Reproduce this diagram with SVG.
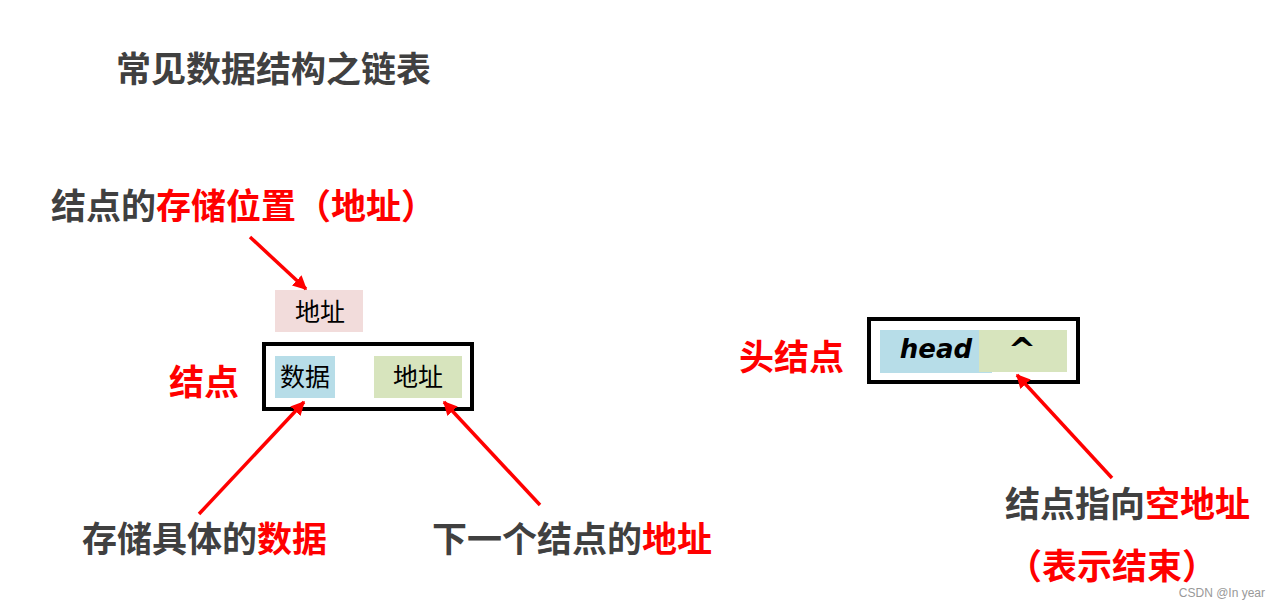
<svg xmlns="http://www.w3.org/2000/svg" width="1281" height="609" viewBox="0 0 1281 609">
<style>
.h{font-family:"Noto Sans CJK SC","Liberation Sans",sans-serif;font-weight:700;font-size:35px;fill:#404040}
.r{fill:#ff0000}
.s{font-family:"Liberation Serif","Noto Sans CJK SC",serif;font-size:25px;fill:#000;text-anchor:middle}
.frame{fill:none;stroke:#000;stroke-width:4}
.arr{stroke:#ff0000;stroke-width:3.5;fill:none;marker-end:url(#ah)}
</style>
<defs>
<marker id="ah" viewBox="0 0 10 10" refX="9" refY="5" markerWidth="4" markerHeight="4" orient="auto" markerUnits="strokeWidth">
<path d="M0,0 L10,5 L0,10 z" fill="#ff0000"/>
</marker>
</defs>
<rect width="1281" height="609" fill="#fff"/>
<g id="title"><text class="h" x="116" y="82">常见数据结构之链表</text></g>
<g id="label-storage"><text class="h" x="51" y="219">结点的<tspan class="r">存储位置（地址）</tspan></text></g>
<g id="addr-box">
<rect x="275" y="290" width="88" height="42" fill="#f2dcdb"/>
<text class="s" x="320" y="321">地址</text>
</g>
<g id="node-label"><text class="h r" x="169" y="395">结点</text></g>
<g id="node">
<rect class="frame" x="264" y="344" width="208" height="65"/>
<rect x="275" y="356" width="60" height="42" fill="#b7dde8"/>
<text class="s" x="305" y="386">数据</text>
<rect x="374" y="356" width="88" height="42" fill="#d7e4bd"/>
<text class="s" x="418" y="386">地址</text>
</g>
<g id="label-data"><text class="h" x="82" y="552">存储具体的<tspan class="r">数据</tspan></text></g>
<g id="label-next"><text class="h" x="432" y="552">下一个结点的<tspan class="r">地址</tspan></text></g>
<g id="head-label"><text class="h r" x="739" y="370">头结点</text></g>
<g id="head-node">
<rect class="frame" x="869" y="319" width="209" height="63"/>
<rect x="880" y="330" width="112" height="43" fill="#b7dde8"/>
<rect x="979" y="330" width="88" height="42" fill="#d7e4bd"/>
<text x="936" y="358" text-anchor="middle" font-family="'DejaVu Sans',sans-serif" font-style="italic" font-weight="600" font-size="26" fill="#000">head</text>
<text x="1022" y="362" text-anchor="middle" font-family="'DejaVu Sans',sans-serif" font-weight="700" font-size="34" fill="#000">^</text>
</g>
<g id="label-null">
<text class="h" x="1005" y="517">结点指向<tspan class="r">空地址</tspan></text>
<text class="h r" x="1007" y="579">（表示结束）</text>
</g>
<g id="connectors">
<line class="arr" x1="250" y1="237" x2="306" y2="289"/>
<line class="arr" x1="199" y1="514" x2="304" y2="402"/>
<line class="arr" x1="540" y1="505" x2="444" y2="402"/>
<line class="arr" x1="1112" y1="478" x2="1017" y2="375"/>
</g>
<text x="1265" y="597" text-anchor="end" font-family="'Liberation Sans',sans-serif" font-size="12" fill="#999">CSDN @In year</text>
</svg>
